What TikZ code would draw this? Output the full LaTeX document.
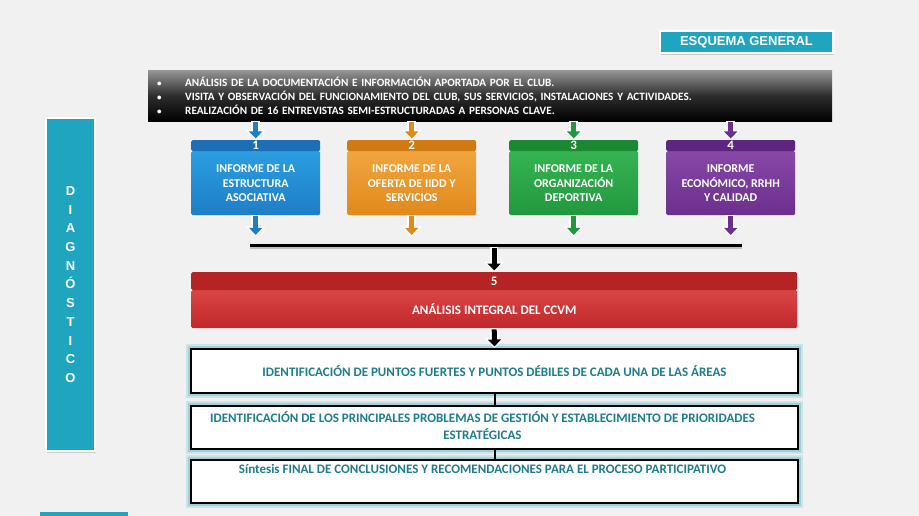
\documentclass[tikz,border=0pt]{standalone}
\usepackage{fontspec}
\setmainfont{Carlito}
\newfontfamily\arialf{Liberation Sans}
\usetikzlibrary{arrows.meta,shadows,calc}
\definecolor{bgc}{HTML}{F1F1F1}
\definecolor{tealc}{HTML}{1FA5BF}
\definecolor{blueA}{HTML}{2B9DE0}\definecolor{blueB}{HTML}{1E7EC6}\definecolor{blueH}{HTML}{1C6FB6}
\definecolor{orA}{HTML}{F2A53E}\definecolor{orB}{HTML}{E0891C}\definecolor{orH}{HTML}{D27A12}
\definecolor{grA}{HTML}{36B352}\definecolor{grB}{HTML}{22983E}\definecolor{grH}{HTML}{1B8834}
\definecolor{puA}{HTML}{8748A8}\definecolor{puB}{HTML}{6B2F8D}\definecolor{puH}{HTML}{5D2580}
\definecolor{reA}{HTML}{DA4545}\definecolor{reB}{HTML}{C02729}\definecolor{reH}{HTML}{B52325}
\definecolor{txteal}{HTML}{1E7C8C}
\definecolor{glow}{HTML}{9FCFD8}
\tikzset{
  boxbody/.style n args={2}{anchor=north west, inner sep=0pt, minimum width=129pt, minimum height=64pt,
    top color=#1, bottom color=#2, rounded corners=1.5pt, text=white, align=center,
    font=\bfseries\fontsize{12}{14.5}\selectfont},
  boxhead/.style={anchor=north west, inner sep=0pt, minimum width=129pt, minimum height=11pt,
    fill=#1, rounded corners=1.5pt, text=white, font=\bfseries\fontsize{13}{11}\selectfont},
  smallarrow/.style={draw=#1, line width=5pt, shorten >=1.5pt, shorten <=1pt,
    -{Triangle[width=13pt,length=7pt]},
    preaction={draw=white, line width=8.5pt, shorten >=0pt, shorten <=0pt, -{Triangle[width=19pt,length=10pt]}}},
  whitebox/.style={anchor=north west, inner sep=0pt, minimum width=607pt, fill=white,
    draw=black, line width=2pt,
    preaction={draw=glow!55, line width=10pt}, preaction={draw=glow, line width=6pt}},
  wtext/.style={text=txteal, font=\bfseries\fontsize{13}{17}\selectfont, align=center, inner sep=0pt}
}
\begin{document}
\begin{tikzpicture}[x=1pt,y=-1pt]
\useasboundingbox (0,0) rectangle (919,516);
\fill[bgc] (0,0) rectangle (919,516);
\fill[tealc] (40,512) rectangle (128,516);

% title
\node[anchor=north west, minimum width=173pt, minimum height=22pt, inner sep=0pt, fill=tealc,
  draw=white, line width=2pt, drop shadow={shadow xshift=1pt, shadow yshift=-2pt, opacity=0.35},
  text=white, font=\arialf\bfseries\fontsize{13}{13}\selectfont] (title) at (659,30) {ESQUEMA GENERAL};

% vertical bar
\node[anchor=north west, minimum width=49pt, minimum height=333pt, inner sep=0pt, fill=tealc,
  draw=white, line width=2pt, drop shadow={shadow xshift=1pt, shadow yshift=-2pt, opacity=0.35},
  text=white, align=center, font=\arialf\bfseries\fontsize{13}{18.7}\selectfont] (diag) at (45,117)
  {D\\I\\A\\G\\N\\Ó\\S\\T\\I\\C\\O};

% banner
\node[anchor=north west, minimum width=684pt, minimum height=51pt, inner xsep=9pt, inner ysep=0pt,
  text width=666pt, align=left, top color={rgb,255:red,150;green,150;blue,150}, bottom color=black,
  middle color={rgb,255:red,45;green,45;blue,45}, shading angle=0,
  text=white, font=\bfseries\fontsize{11.2}{14}\selectfont] (banner) at (148,70)
  {\makebox[28pt][l]{\small•}ANÁLISIS DE LA DOCUMENTACIÓN E INFORMACIÓN APORTADA POR EL CLUB.\\
   \makebox[28pt][l]{\small•}VISITA Y OBSERVACIÓN DEL FUNCIONAMIENTO DEL CLUB, SUS SERVICIOS, INSTALACIONES Y ACTIVIDADES.\\
   \makebox[28pt][l]{\small•}REALIZACIÓN DE 16 ENTREVISTAS SEMI-ESTRUCTURADAS A PERSONAS CLAVE.};

% four boxes
\node[boxbody={blueA}{blueB}] (b1) at (191,151) {INFORME DE LA\\ESTRUCTURA\\ASOCIATIVA};
\node[boxhead=blueH] (h1) at (191,140) {1};
\node[boxbody={orA}{orB}] (b2) at (347,151) {INFORME DE LA\\OFERTA DE IIDD Y\\SERVICIOS};
\node[boxhead=orH] (h2) at (347,140) {2};
\node[boxbody={grA}{grB}] (b3) at (509,151) {INFORME DE LA\\ORGANIZACIÓN\\DEPORTIVA};
\node[boxhead=grH] (h3) at (509,140) {3};
\node[boxbody={puA}{puB}] (b4) at (666,151) {INFORME\\ECONÓMICO, RRHH\\Y CALIDAD};
\node[boxhead=puH] (h4) at (666,140) {4};

% arrows from banner
\draw[smallarrow=blueB] (banner.south -| h1.north) -- (h1.north);
\draw[smallarrow=orB] (banner.south -| h2.north) -- (h2.north);
\draw[smallarrow=grB] (banner.south -| h3.north) -- (h3.north);
\draw[smallarrow=puB] (banner.south -| h4.north) -- (h4.north);

% red box
\node[anchor=north west, inner sep=0pt, minimum width=606pt, minimum height=38pt, top color=reA, bottom color=reB,
  rounded corners=1.5pt, text=white, font=\bfseries\fontsize{13}{13}\selectfont] (r5) at (191,290) {ANÁLISIS INTEGRAL DEL CCVM};
\node[anchor=north west, inner sep=0pt, minimum width=606pt, minimum height=18pt, fill=reH,
  rounded corners=1.5pt, text=white, font=\bfseries\fontsize{13}{13}\selectfont] (h5) at (191,272) {5};

% collecting bar
\coordinate (barL) at (250,245);
\coordinate (barR) at (742,245);
\coordinate (barM) at ($(h5.north |- barL)+(0,2)$);
\draw[line width=3pt, black, preaction={draw=black!25, line width=5pt, transform canvas={yshift=-1pt}}] (barL) -- (barR);
\foreach \i/\c in {1/blueB,2/orB,3/grB,4/puB}{
  \coordinate (d\i) at ($(b\i.south)+(0,21)$);
  \draw[smallarrow=\c] (b\i.south) -- (d\i);
}
\draw[smallarrow=black] (barM) -- (h5.north);

% white boxes
\node[whitebox, minimum height=44pt] (w1) at (190,348) {};
\node[wtext] at (w1.center) {IDENTIFICACIÓN DE PUNTOS FUERTES Y PUNTOS DÉBILES DE CADA UNA DE LAS ÁREAS};
\node[whitebox, minimum height=43pt] (w2) at (190,405) {};
\node[wtext] at ($(w2.center)+(-12,-2)$) {IDENTIFICACIÓN DE LOS PRINCIPALES PROBLEMAS DE GESTIÓN Y ESTABLECIMIENTO DE PRIORIDADES\\ESTRATÉGICAS};
\node[whitebox, minimum height=43pt] (w3) at (190,459) {};
\node[wtext, anchor=north] at ($(w3.north)+(-12,5)$) {Síntesis FINAL DE CONCLUSIONES Y RECOMENDACIONES PARA EL PROCESO PARTICIPATIVO};
\draw[smallarrow=black] (r5.south) -- (w1.north);
\draw[line width=2pt] (w1.south) -- (w2.north);
\draw[line width=2pt] (w2.south) -- (w3.north);
\end{tikzpicture}
\end{document}
